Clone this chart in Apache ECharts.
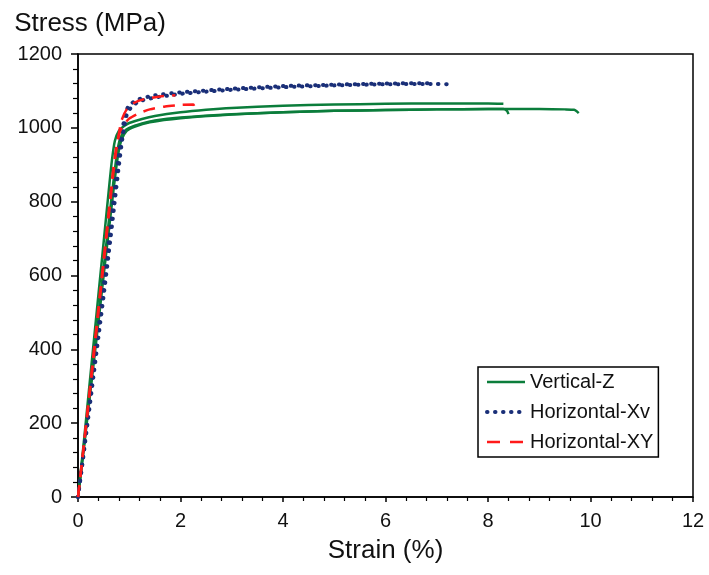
<!DOCTYPE html>
<html>
<head>
<meta charset="utf-8">
<script src="https://cdn.jsdelivr.net/npm/echarts@6/dist/echarts.min.js"></script>
<style>
html,body{margin:0;padding:0;background:#fff;}
#chart{width:709px;height:575px;}
</style>
</head>
<body>
<div id="chart"></div>
<script>
// ---- data: [strain %, stress MPa] per specimen ----
const seriesNames = ['Vertical-Z', 'Horizontal-Xv', 'Horizontal-XY'];
const xTicks = [0, 2, 4, 6, 8, 10, 12];
const yTicks = [0, 200, 400, 600, 800, 1000, 1200];

const verticalZ1 = [[0,0],[0.1,130],[0.2,270],[0.3,410],[0.4,550],[0.5,690],[0.6,830],[0.66,910],[0.72,965],[0.8,992],[0.9,1005],[1.0,1013],[1.25,1024],[1.5,1032],[2,1042],[2.5,1049],[3,1054],[4,1060],[5,1063],[6,1065],[7,1066],[8,1066],[8.3,1065]];
const verticalZ2 = [[0,0],[0.1,120],[0.2,245],[0.3,370],[0.4,495],[0.5,620],[0.6,745],[0.7,865],[0.76,930],[0.82,970],[0.9,990],[1.0,1000],[1.25,1012],[1.5,1020],[2,1028],[3,1037],[4,1042],[5,1046],[6,1048],[7,1050],[8,1051],[8.3,1051],[8.37,1046],[8.4,1037]];
const verticalZ3 = [[0,0],[0.1,115],[0.2,235],[0.3,355],[0.4,475],[0.5,600],[0.6,720],[0.7,840],[0.78,925],[0.85,968],[0.95,992],[1.1,1003],[1.4,1015],[2,1026],[3,1036],[4,1042],[5,1046],[6,1048],[7,1050],[8,1051],[9,1051],[9.5,1050],[9.68,1049],[9.73,1045],[9.77,1040]];

const horizXv1 = [[0,0],[0.1,105],[0.2,215],[0.3,325],[0.4,435],[0.5,545],[0.6,660],[0.7,780],[0.8,900],[0.88,985],[0.95,1035],[1.05,1058],[1.2,1072],[1.5,1082],[2,1092],[2.5,1098],[3,1103],[4,1110],[5,1115],[6,1118],[7,1119],[7.2,1118],[7.3,1112]];
const horizXv2 = [[0,0],[0.1,110],[0.2,225],[0.3,340],[0.4,455],[0.5,570],[0.6,690],[0.7,810],[0.78,910],[0.86,990],[0.93,1040],[1.0,1062],[1.2,1078],[1.5,1088],[2,1096],[3,1106],[4,1113],[5,1117],[6,1120],[6.9,1121],[6.95,1118]];

const horizXY1 = [[0,0],[0.1,125],[0.2,255],[0.3,385],[0.4,515],[0.5,645],[0.6,775],[0.68,880],[0.75,950],[0.82,990],[0.9,1010],[1.0,1025],[1.2,1040],[1.4,1050],[1.7,1058],[2.0,1062],[2.25,1063],[2.28,1050],[2.3,1040]];
const horizXY2 = [[0,0],[0.1,120],[0.2,245],[0.3,370],[0.4,500],[0.5,630],[0.6,760],[0.7,890],[0.78,970],[0.85,1020],[0.95,1050],[1.1,1068],[1.3,1078],[1.6,1085],[1.9,1088]];

// ---- styles ----
const FONT = "'Liberation Sans', Arial, sans-serif";
const GREEN = '#0b7d3b';
const BLUE = '#1a2f78';
const RED = '#ff1a1a';

function mk(name, data, color, width, type, cap) {
  return {
    name: name, type: 'line', data: data, symbol: 'none', smooth: 0.2,
    lineStyle: { color: color, width: width, type: type, cap: cap || 'butt' },
    itemStyle: { color: color },
    emphasis: { disabled: true }, animation: false
  };
}

const series = [
  mk(seriesNames[0], verticalZ1, GREEN, 2.5, 'solid'),
  mk(seriesNames[0], verticalZ2, GREEN, 2.5, 'solid'),
  mk(seriesNames[0], verticalZ3, GREEN, 2.5, 'solid'),
  mk(seriesNames[1], horizXv1, BLUE, 4, [0.5, 7.5], 'round'),
  mk(seriesNames[1], horizXv2, BLUE, 4, [0.5, 7.5], 'round'),
  mk(seriesNames[2], horizXY1, RED, 2.5, [12, 8]),
  mk(seriesNames[2], horizXY2, RED, 2.5, [12, 8])
];

const chart = echarts.init(document.getElementById('chart'), null, { renderer: 'canvas' });
chart.setOption({
  backgroundColor: '#fff',
  animation: false,
  textStyle: { fontFamily: FONT },
  grid: { left: 78, right: 16, top: 54, bottom: 78, show: true, borderColor: '#000', borderWidth: 1.5, backgroundColor: 'transparent' },
  legend: {
    data: [
      { name: seriesNames[0], lineStyle: { width: 2.5 } },
      { name: seriesNames[1], lineStyle: { width: 4, type: [0.5, 7.5], cap: 'round' } },
      { name: seriesNames[2], lineStyle: { width: 2.5, type: [13, 10] } }
    ],
    orient: 'vertical', left: 478, top: 367,
    itemWidth: 38, itemHeight: 14, itemGap: 10,
    padding: [5, 5, 5, 7],
    backgroundColor: '#fff', borderColor: '#000', borderWidth: 1.5,
    itemStyle: { opacity: 0 },
    textStyle: { fontFamily: FONT, fontSize: 20, color: '#111' },
    selectedMode: false
  },
  xAxis: {
    type: 'value', min: xTicks[0], max: xTicks[xTicks.length - 1], interval: 2,
    name: 'Strain (%)', nameLocation: 'middle', nameGap: 41,
    nameTextStyle: { fontFamily: FONT, fontSize: 26, color: '#111' },
    axisLine: { show: true, onZero: false, lineStyle: { color: '#000', width: 1.5 } },
    axisTick: { show: true, inside: false, length: 5, lineStyle: { color: '#000', width: 1.5 } },
    minorTick: { show: true, splitNumber: 5, length: 4, lineStyle: { color: '#000', width: 1.2 } },
    axisLabel: { fontFamily: FONT, fontSize: 20, color: '#111', margin: 14, formatter: function (v) { return String(v); } },
    splitLine: { show: false }
  },
  yAxis: {
    type: 'value', min: yTicks[0], max: yTicks[yTicks.length - 1], interval: 200,
    name: 'Stress (MPa)', nameLocation: 'end', nameGap: 17,
    nameTextStyle: { fontFamily: FONT, fontSize: 26, color: '#111', align: 'center', padding: [0, 0, 0, 24] },
    axisLine: { show: true, onZero: false, lineStyle: { color: '#000', width: 1.5 } },
    axisTick: { show: true, inside: false, length: 7, lineStyle: { color: '#000', width: 1.5 } },
    minorTick: { show: true, splitNumber: 5, length: 5, lineStyle: { color: '#000', width: 1.2 } },
    axisLabel: { fontFamily: FONT, fontSize: 20, color: '#111', margin: 16, formatter: function (v) { return String(v); } },
    splitLine: { show: false }
  },
  series: series
});
</script>
</body>
</html>
